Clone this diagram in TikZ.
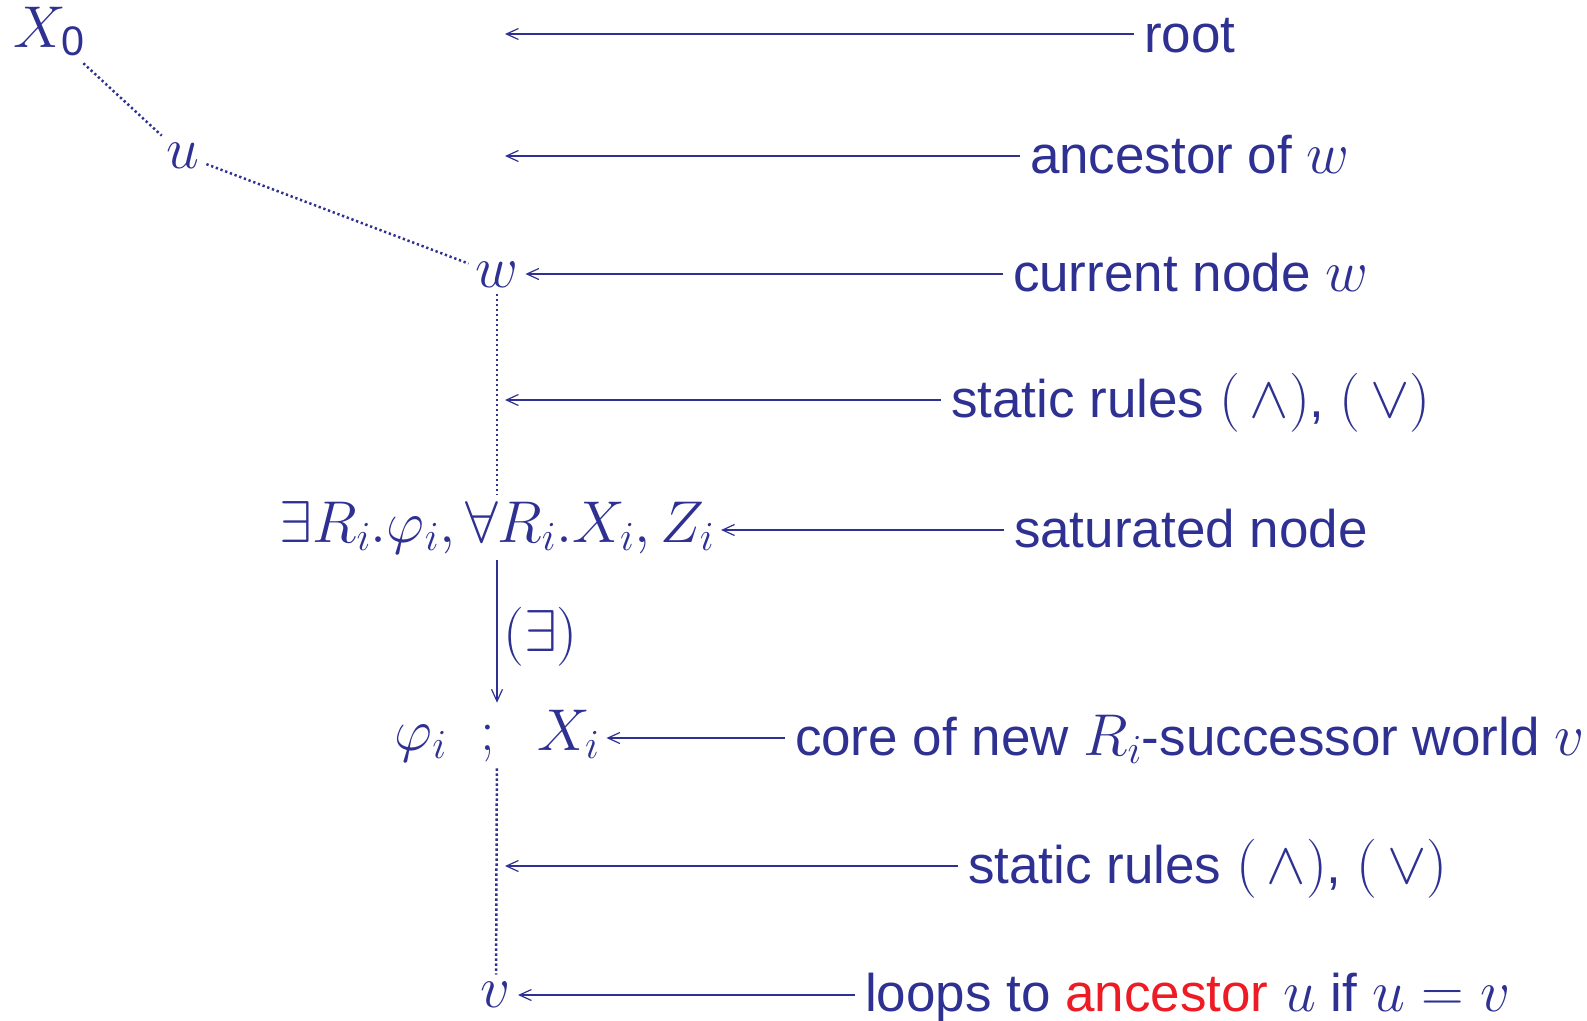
\RequirePackage{fix-cm}
\documentclass[tikz,border=0pt]{standalone}
\usepackage{amsmath}
\usepackage{fontspec}
\setmainfont{Liberation Sans}
\DeclareMathSizes{53}{59}{41.3}{29.5}
\usetikzlibrary{arrows.meta,calc}
\definecolor{mainblue}{RGB}{46,49,146}
\definecolor{ancred}{RGB}{237,28,36}
\tikzset{
  big/.style={font=\fontsize{53}{63}\selectfont},
  mnode/.style={big, text=mainblue, inner sep=7pt, outer sep=0pt},
  lab/.style={big, text=mainblue, anchor=west, inner xsep=10pt, inner ysep=0pt,
              text height=45pt, text depth=11pt, outer sep=0pt},
  arr/.style={draw=mainblue, line width=2.6pt,
              -{Straight Barb[length=12pt,width=11pt,line width=1.2pt]}},
  dotline/.style={draw=mainblue, line width=2.5pt, dash pattern=on 2.3pt off 2.7pt}
}
\begin{document}
\begin{tikzpicture}[x=1pt,y=-1pt]
\useasboundingbox (0,0) rectangle (1587,1020);
% tree nodes
\node[mnode, anchor=base] (X0) at (49,47) {$X_{\text{0}}$};
\node[mnode, anchor=base] (u) at (183,168) {$u$};
\node[mnode, anchor=base] (w) at (497,287) {$w$};
\node[mnode, anchor=base] (sat) at (497,542) {$\exists R_i.\varphi_i, \forall R_i.X_i, Z_i$};
\node[mnode, anchor=base] (core) at (497,750) {$\varphi_i\hspace{34pt};\hspace{32pt}X_i$};
\node[mnode, anchor=base] (v) at (496,1007) {$v$};
% tree connectors
\draw[dotline] (X0) -- (u);
\draw[dotline] (u) -- (w);
\draw[dotline] (w) -- (sat);
\draw[arr] (sat) -- node[big, text=mainblue, anchor=west, xshift=3pt, yshift=-5pt, inner sep=2pt] (ex) {$(\exists)$} (core);
\draw[dotline] (core) -- (v);
% targets on the dotted lines
\coordinate (t1) at (505,34);
\coordinate (t2) at (505,156);
\coordinate (t4) at (505,400);
\coordinate (t7) at (505,866);
% labels
\node[lab, text height=46pt, text depth=10pt] (l1) at (1134,34) {root};
\node[lab] (l2) at (1020,156) {ancestor of $w$};
\node[lab] (l3) at (1003,274) {current node $w$};
\node[lab] (l4) at (941,400) {static rules $(\,\wedge)$, $(\,\vee)$};
\node[lab] (l5) at (1004,530) {saturated node};
\node[lab] (l6) at (785,738) {core of new $R_i$-successor world $v$};
\node[lab] (l7) at (958,866) {static rules $(\,\wedge)$, $(\,\vee)$};
\node[lab, text height=44pt, text depth=12pt] (l8) at (855,995) {loops to \textcolor{ancred}{ancestor} $u$ if $u = v$};
% label arrows
\draw[arr] (l1.west) -- (t1);
\draw[arr] (l2.west) -- (t2);
\draw[arr] (l3.west) -- (l3.west -| w.east);
\draw[arr] (l4.west) -- (t4);
\draw[arr] (l5.west) -- (l5.west -| sat.east);
\draw[arr] (l6.west) -- (l6.west -| core.east);
\draw[arr] (l7.west) -- (t7);
\draw[arr] (l8.west) -- (l8.west -| v.east);
\end{tikzpicture}
\end{document}
